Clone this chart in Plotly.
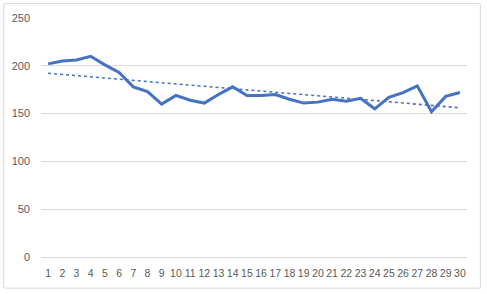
import numpy as np
import plotly.graph_objects as go

categories = list(range(1, 31))
values = [202, 205, 206, 210, 201, 193, 178, 173, 160, 169,
          164, 161, 170, 178, 169, 169, 170, 165, 161, 162,
          165, 163, 166, 155, 167, 172, 179, 152, 168, 172]
y_ticks = [0, 50, 100, 150, 200, 250]

x = np.array(categories, dtype=float)
y = np.array(values, dtype=float)
slope, intercept = np.polyfit(x, y, 1)
trend = slope * x + intercept

fig = go.Figure()
fig.add_trace(go.Scatter(x=categories, y=values, mode="lines",
                         line=dict(color="#4472C4", width=3), hoverinfo="skip"))
fig.add_trace(go.Scatter(x=categories, y=trend.tolist(), mode="lines",
                         line=dict(color="#4472C4", width=1.6, dash="dot"), hoverinfo="skip"))

L, R, T, B = 38, 20, 15, 37
W, H = 487, 294
pw, ph = W - L - R, H - T - B

fig.update_layout(
    width=W, height=H,
    margin=dict(l=L, r=R, t=T, b=B, pad=0),
    paper_bgcolor="white", plot_bgcolor="white",
    showlegend=False,
    font=dict(family="Liberation Sans", size=11, color="#595959"),
    xaxis=dict(range=[0.5, 30.5], tickmode="array", tickvals=categories,
               ticktext=[str(c) for c in categories], showgrid=False,
               zeroline=False, showline=False, ticks="", ticklabelstandoff=8,
               tickangle=0, tickfont=dict(size=10.5, family="Liberation Sans Narrow, Liberation Sans"),
               fixedrange=True),
    yaxis=dict(range=[0, 250], tickmode="array", tickvals=y_ticks,
               showgrid=True, gridcolor="#D9D9D9", gridwidth=1,
               zeroline=True, zerolinecolor="#D9D9D9", zerolinewidth=1,
               showline=False, ticks="", ticklabelstandoff=10,
               fixedrange=True),
    shapes=[dict(type="rect", xref="paper", yref="paper",
                 x0=(0.5 - L) / pw, x1=(480.5 - L) / pw,
                 y0=(T + ph - 288.5) / ph, y1=(T + ph - 0.5) / ph,
                 line=dict(color="#D9D9D9", width=1), fillcolor="rgba(0,0,0,0)",
                 layer="below")],
)

fig.write_html("out.html")
